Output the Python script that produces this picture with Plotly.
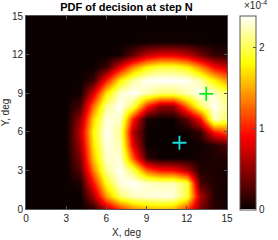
import numpy as np
import plotly.graph_objects as go

# grid coordinates (deg)
x_deg = list(range(16))
y_deg = list(range(16))

# PDF values, in units of 1e-4; rows are y = 0..15, columns x = 0..15
pdf_e4 = [
    [0, 0, 0, 0, 0, .10, .60, 1.05, 1.35, 1.50, 1.55, 1.50, 1.10, .40, .10, .03],
    [0, 0, 0, 0, 0, .55, 1.45, 2.05, 2.25, 2.30, 2.33, 2.32, 1.95, .60, .08, .03],
    [0, 0, 0, 0, .07, .93, 1.84, 2.31, 2.38, 2.27, 2.21, 2.22, 1.95, .24, .07, .04],
    [0, 0, 0, 0, .28, 1.33, 2.15, 2.38, 2.00, 1.20, .95, .91, .62, .07, .07, .05],
    [0, 0, 0, 0, .43, 1.57, 2.27, 2.29, 1.20, .15, 0, 0, .01, .04, .07, .08],
    [0, 0, 0, 0, .56, 1.70, 2.34, 2.20, .77, 0, 0, 0, 0, .02, .10, .25],
    [0, 0, 0, 0, .66, 1.78, 2.38, 2.11, .60, 0, 0, 0, 0, .15, .95, 1.20],
    [0, 0, 0, 0, .51, 1.63, 2.32, 2.26, .95, .04, 0, 0, .30, .90, 2.26, 2.00],
    [0, 0, 0, 0, .23, 1.27, 2.13, 2.38, 2.00, 1.00, .50, .50, 1.30, 2.00, 2.38, 2.10],
    [0, 0, 0, 0, .02, .75, 1.71, 2.27, 2.38, 2.20, 2.05, 2.05, 2.20, 2.38, 2.27, 2.00],
    [0, 0, 0, 0, 0, .16, .96, 1.75, 2.17, 2.37, 2.39, 2.39, 2.37, 2.17, 1.75, 1.40],
    [0, 0, 0, 0, 0, 0, .18, .81, 1.39, 1.78, 1.94, 1.94, 1.78, 1.39, .90, .70],
    [0, 0, 0, 0, 0, 0, 0, .04, .33, .69, .84, .84, .69, .40, .15, .15],
    [0, 0, 0, 0, 0, 0, 0, 0, 0, .02, .03, .03, .02, .01, 0, 0],
    [0] * 16,
    [0] * 16,
]
pdf_scale = 1e-4
pdf_max_e4 = 2.39

# markers
green_x, green_y = [13.45], [8.95]
cyan_x, cyan_y = [11.45], [5.15]

# tick labels
axis_ticks = [0, 3, 6, 9, 12, 15]
cbar_ticks_e4 = [0, 1, 2]

hot = [
    [0.0, "rgb(11,0,0)"],
    [0.375, "rgb(255,0,0)"],
    [0.75, "rgb(255,255,0)"],
    [1.0, "rgb(255,255,255)"],
]

FONT = "Liberation Sans, Arial, Helvetica, sans-serif"
TXT = "#262626"

z = np.array(pdf_e4) * pdf_scale

fig = go.Figure()
fig.add_trace(go.Heatmap(
    x=x_deg, y=y_deg, z=z,
    zmin=0, zmax=pdf_max_e4 * pdf_scale,
    zsmooth="best",
    colorscale=hot,
    colorbar=dict(
        thickness=16, thicknessmode="pixels",
        len=193.6, lenmode="pixels",
        x=1.0625, xanchor="left", xpad=0,
        y=0.5, yanchor="middle", ypad=0,
        outlinewidth=1, outlinecolor="#555555",
        tickvals=[t * pdf_scale for t in cbar_ticks_e4],
        ticktext=[str(t) for t in cbar_ticks_e4],
        ticks="inside", ticklen=3, tickcolor="#555555",
        tickfont=dict(family=FONT, size=10, color=TXT),
    ),
    hoverinfo="skip",
))
fig.add_trace(go.Scatter(
    x=green_x, y=green_y, mode="markers",
    marker=dict(symbol="cross-thin", size=10, line=dict(color="#11ee11", width=1.8)),
    showlegend=False, hoverinfo="skip",
))
fig.add_trace(go.Scatter(
    x=cyan_x, y=cyan_y, mode="markers",
    marker=dict(symbol="cross-thin", size=10, line=dict(color="#11dddd", width=1.8)),
    showlegend=False, hoverinfo="skip",
))

axis_common = dict(
    range=[0, 15], tickvals=axis_ticks, ticktext=[str(t) for t in axis_ticks],
    ticks="inside", ticklen=3, tickcolor="#555555",
    showline=True, linecolor="#555555", linewidth=1, mirror="ticks",
    showgrid=False, zeroline=False, automargin=False,
    tickfont=dict(family=FONT, size=10, color=TXT),
)
fig.update_xaxes(**axis_common, title=dict(text="X, deg", font=dict(family=FONT, size=10, color=TXT), standoff=5))
fig.update_yaxes(**axis_common, title=dict(text="Y, deg", font=dict(family=FONT, size=10, color=TXT), standoff=2))

fig.update_layout(
    width=278, height=240,
    margin=dict(l=26, r=50.5, t=15.7, b=30.7, pad=0, autoexpand=False),
    paper_bgcolor="white", plot_bgcolor="white",
    showlegend=False,
    title=dict(text="<b>PDF of decision at step N</b>", x=0.5, xref="paper",
               y=1 - 7 / 240, yanchor="middle",
               font=dict(family=FONT, size=11, color="black")),
    annotations=[dict(
        text="×10<sup>-4</sup>", xref="paper", yref="paper",
        x=(243 - 26) / 201.5, y=(209.3 - 13) / 193.6,
        xanchor="left", yanchor="bottom", showarrow=False,
        font=dict(family=FONT, size=10, color=TXT),
    )],
)

fig.write_html(
    "out.html",
    config={"displayModeBar": False},
    post_script="document.body.style.margin='0';document.body.style.overflow='hidden';",
)
